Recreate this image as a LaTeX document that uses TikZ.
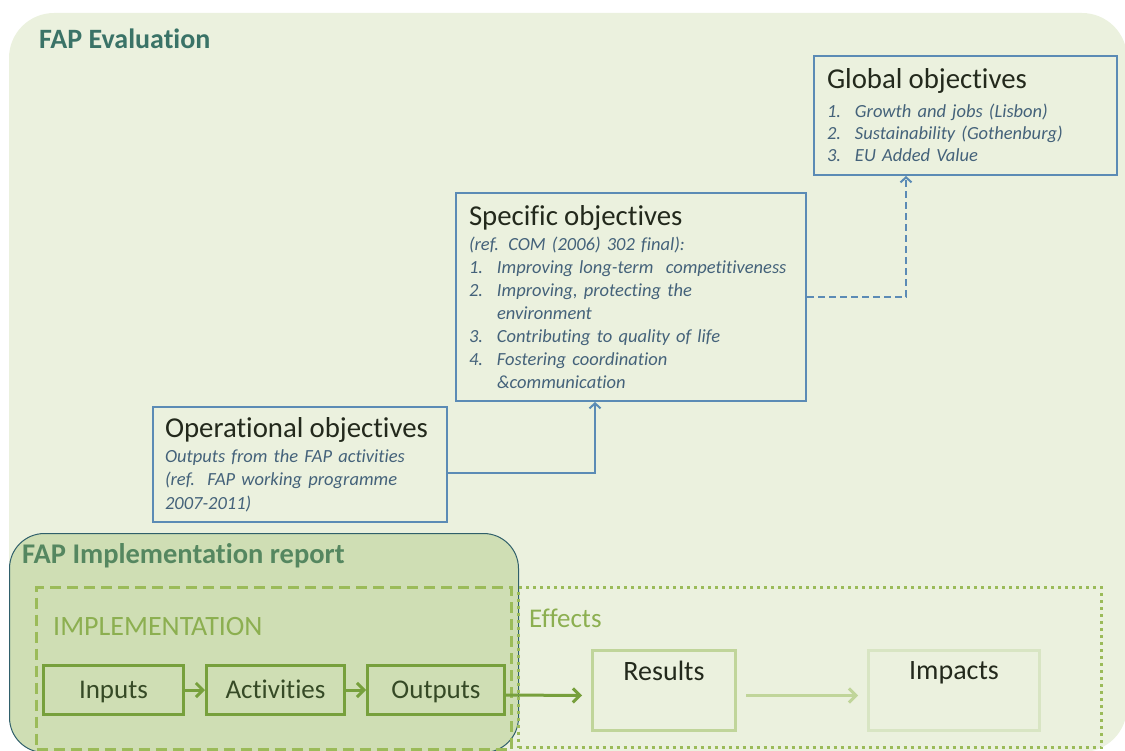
\documentclass[tikz,border=0pt]{standalone}
\usepackage{fontspec}
\setmainfont{Carlito}[Ligatures=NoCommon]
\usetikzlibrary{positioning,arrows.meta}
\definecolor{bgfill}{HTML}{EBF1DE}
\definecolor{evaltxt}{HTML}{3A7367}
\definecolor{reptxt}{HTML}{558760}
\definecolor{repfill}{HTML}{CFDEB4}
\definecolor{repline}{HTML}{2F5F6A}
\definecolor{boxblue}{HTML}{5B8BB5}
\definecolor{itemtxt}{HTML}{44627A}
\definecolor{titletxt}{HTML}{23291C}
\definecolor{dashgreen}{HTML}{9BBB59}
\definecolor{boxgreen}{HTML}{77A03C}
\definecolor{labgreen}{HTML}{8CAF50}
\definecolor{resgreen}{HTML}{C0D59A}
\definecolor{impgreen}{HTML}{D8E5C3}
\definecolor{steptxt}{HTML}{364A26}
\begin{document}
\begin{tikzpicture}[x=1pt,y=-1pt,
  objbox/.style={draw=boxblue,line width=2pt,anchor=north west,align=left,inner ysep=0pt,text=itemtxt},
  stepbox/.style={draw=boxgreen,line width=3pt,minimum height=49pt,text height=23pt,text depth=6pt,text=steptxt,font=\fontsize{27}{30}\selectfont},
  effbox/.style={line width=3pt,anchor=north west,minimum height=80pt},
  bluearrow/.style={color=boxblue,line width=2pt,-{Straight Barb[length=5pt,width=11pt]}},
  greenarrow/.style={color=boxgreen,line width=3pt,-{Straight Barb[length=7pt,width=14pt]}}]
\useasboundingbox (0,0) rectangle (1125,751);
\fill[bgfill,rounded corners=45pt] (9,13) rectangle (1127,752);
\node[anchor=base west,inner sep=0pt,text=evaltxt,font=\bfseries\fontsize{28}{30}\selectfont] (evaltitle) at (39,49) {FAP Evaluation};

\node[objbox,inner xsep=13pt,text width=277pt,minimum height=119pt,font=\itshape\fontsize{18.5}{22}\selectfont] (glob) at (813,55)
 {{\upshape\color{titletxt}\fontsize{28.8}{22}\selectfont Global objectives}\\[7pt]
  \makebox[28pt][l]{1.}Growth and jobs (Lisbon)\\
  \makebox[28pt][l]{2.}Sustainability (Gothenburg)\\
  \makebox[28pt][l]{3.}EU Added Value};
\node[objbox,inner xsep=13pt,text width=324pt,minimum height=208pt,font=\itshape\fontsize{18.5}{23}\selectfont] (spec) at (455,192)
 {{\upshape\color{titletxt}\fontsize{28.8}{23}\selectfont Specific objectives}\\[2pt]
  (ref. COM (2006) 302 final):\\
  \makebox[28pt][l]{1.}Improving long-term\ \ competitiveness\\
  \makebox[28pt][l]{2.}Improving, protecting the\\
  \hspace*{28pt}environment\\
  \makebox[28pt][l]{3.}Contributing to quality of life\\
  \makebox[28pt][l]{4.}Fostering coordination\\
  \hspace*{28pt}\&communication};
\node[objbox,inner xsep=12pt,text width=270pt,minimum height=115pt,font=\itshape\fontsize{18.5}{23.5}\selectfont] (oper) at (152,406)
 {{\upshape\color{titletxt}\fontsize{28.8}{23.5}\selectfont Operational objectives}\\[1.5pt]
  Outputs from the FAP activities\\
  (ref.\ \ FAP working programme\\
  2007-2011)};

\draw[bluearrow] ([yshift=-8pt]oper.east) -| ([xshift=-36pt]spec.south);
\draw[bluearrow,dash pattern=on 7pt off 4pt] (spec.east) -| ([xshift=-59.5pt]glob.south);

\node[draw=repline,line width=1pt,fill=repfill,rounded corners=35pt,anchor=north west,minimum width=509pt,minimum height=219pt] (rep) at (9,533) {};
\node[anchor=base west,inner sep=0pt,text=reptxt,font=\bfseries\fontsize{28.5}{30}\selectfont] (reptitle) at (22,563) {FAP Implementation report};

\node[draw=dashgreen,line width=3pt,dash pattern=on 11pt off 6pt,anchor=north west,minimum width=475pt,minimum height=162pt] (impl) at (35,586) {};
\node[draw=dashgreen,line width=3pt,dash pattern=on 3pt off 4pt,anchor=north west,minimum width=583pt,minimum height=160pt] (eff) at (517,586) {};
\node[anchor=base west,inner sep=0pt,text=labgreen,font=\fontsize{28}{30}\selectfont] (impltitle) at (53,635) {IMPLEMENTATION};
\node[anchor=base west,inner sep=0pt,text=labgreen,font=\fontsize{27}{30}\selectfont] (efftitle) at (529,627) {Effects};

\node[stepbox,anchor=north west,minimum width=140pt] (inp) at (42,664) {Inputs};
\node[stepbox,minimum width=138pt] (act) [right=20pt of inp] {Activities};
\node[stepbox,minimum width=137pt] (outp) [right=20pt of act] {Outputs};

\node[effbox,draw=resgreen,minimum width=143pt,label={[anchor=north,yshift=-9pt,text=titletxt,font=\fontsize{28}{30}\selectfont]north:Results}] (res) at (591,649) {};
\node[effbox,draw=impgreen,minimum width=171pt,label={[anchor=north,yshift=-9pt,text=titletxt,font=\fontsize{28}{30}\selectfont]north:Impacts}] (imp) at (867,649) {};

\draw[greenarrow] (inp) -- (act);
\draw[greenarrow] (act) -- (outp);
\draw[greenarrow] ([yshift=-5pt]outp.east) -- ([yshift=-5pt,xshift=-9pt]res.west);
\draw[greenarrow,color=resgreen] ([yshift=-5pt,xshift=9pt]res.east) -- ([yshift=-5pt,xshift=-9pt]imp.west);
\end{tikzpicture}
\end{document}
